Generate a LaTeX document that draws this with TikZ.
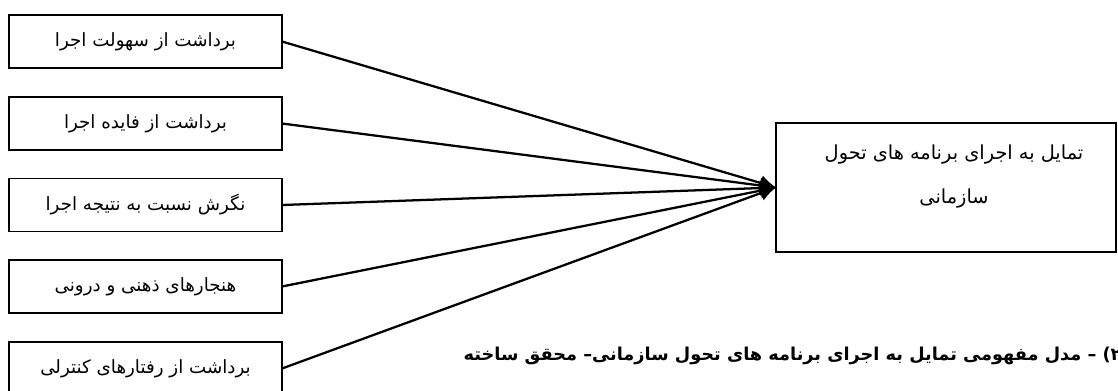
\documentclass[tikz,border=0pt]{standalone}
\usepackage{fontspec}
\setmainfont{DejaVu Sans}
\newfontfamily\arabicfont[Script=Arabic]{DejaVu Sans}
\TeXXeTstate=1
\usetikzlibrary{arrows.meta}
\begin{document}
\begin{tikzpicture}[x=0.75pt,y=-0.75pt,
  srcbox/.style={draw, line width=1.3pt, minimum width=204.75pt, minimum height=39.75pt, inner sep=0pt, outer sep=0pt, font=\arabicfont\fontsize{13.7}{16}\selectfont},
  tgtbox/.style={draw, line width=1.3pt, minimum width=255pt, minimum height=96.75pt, inner sep=0pt, outer sep=0pt},
  conn/.style={line width=1.7pt, -{Latex[length=12pt,width=12pt]}},
  capfont/.style={font=\arabicfont\bfseries\fontsize{13.3}{15}\selectfont}]
\useasboundingbox (0,0) rectangle (1118,390);
\node[srcbox] (b1) at (145.5,41.5) {\beginR برداشت از سهولت اجرا\endR};
\node[srcbox] (b2) at (145.5,123.5) {\beginR برداشت از فایده اجرا\endR};
\node[srcbox] (b3) at (145.5,205) {\beginR نگرش نسبت به نتیجه اجرا\endR};
\node[srcbox] (b4) at (145.5,286.5) {\beginR هنجارهای ذهنی و درونی\endR};
\node[srcbox] (b5) at (145.5,368.5) {\beginR برداشت از رفتارهای کنترلی\endR};
\node[tgtbox] (t) at (946,187.5) {};
\node[font=\arabicfont\fontsize{14.5}{33}\selectfont, align=center, inner sep=0pt] (tt) at (954,177)
  {\beginR تمایل به اجرای برنامه های تحول\endR\\\beginR سازمانی\endR};
\foreach \i in {1,...,5} \draw[conn] (b\i.east) -- (t.west);
\node[capfont, anchor=east, inner sep=0pt] (cap) at (1130,356)
  {\beginR(۲) – مدل مفهومی تمایل به اجرای برنامه های تحول سازمانی– محقق ساخته\endR};
\end{tikzpicture}
\end{document}
